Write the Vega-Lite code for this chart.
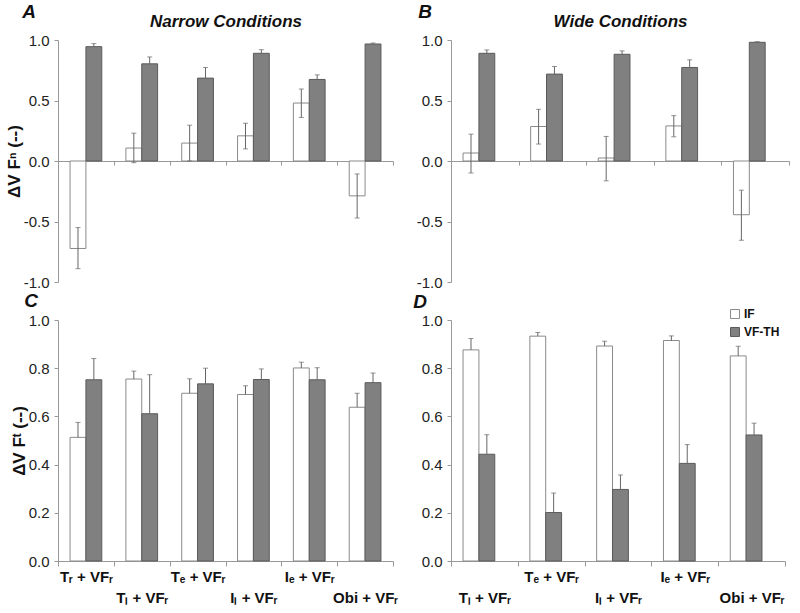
{
  "$schema": "https://vega.github.io/schema/vega-lite/v6.json",
  "padding": {"left": 5, "top": 3, "right": 5, "bottom": 5},
  "columns": 2,
  "spacing": {"row": 2, "column": 15},
  "resolve": {"legend": {"fill": "independent", "stroke": "independent"}, "scale": {"fill": "independent", "stroke": "independent"}},
  "config": {
    "font": "Liberation Sans",
    "view": {"stroke": null},
    "axis": {"labelFont": "Liberation Sans", "labelFontSize": 15, "labelColor": "#222", "domainColor": "#999", "tickColor": "#999", "grid": false, "titleColor": "#111"},
    "title": {"font": "Liberation Sans", "fontSize": 19, "fontWeight": "bold", "fontStyle": "italic", "color": "#111", "anchor": "start", "frame": "bounds", "offset": 0}
  },
  "datasets": {
    "narrowN": [
      {"cond": "Tᵣ + VFᵣ", "series": "IF", "value": -0.723, "lower": -0.89, "upper": -0.55},
      {"cond": "Tᵣ + VFᵣ", "series": "VF-TH", "value": 0.945, "lower": 0.945, "upper": 0.97},
      {"cond": "Tₗ + VFᵣ", "series": "IF", "value": 0.107, "lower": -0.014, "upper": 0.23},
      {"cond": "Tₗ + VFᵣ", "series": "VF-TH", "value": 0.803, "lower": 0.803, "upper": 0.86},
      {"cond": "Tₑ + VFᵣ", "series": "IF", "value": 0.148, "lower": 0.0, "upper": 0.296},
      {"cond": "Tₑ + VFᵣ", "series": "VF-TH", "value": 0.685, "lower": 0.685, "upper": 0.773},
      {"cond": "Iₗ + VFᵣ", "series": "IF", "value": 0.208, "lower": 0.1, "upper": 0.312},
      {"cond": "Iₗ + VFᵣ", "series": "VF-TH", "value": 0.89, "lower": 0.89, "upper": 0.92},
      {"cond": "Iₑ + VFᵣ", "series": "IF", "value": 0.479, "lower": 0.36, "upper": 0.595},
      {"cond": "Iₑ + VFᵣ", "series": "VF-TH", "value": 0.674, "lower": 0.674, "upper": 0.712},
      {"cond": "Obi + VFᵣ", "series": "IF", "value": -0.288, "lower": -0.471, "upper": -0.107},
      {"cond": "Obi + VFᵣ", "series": "VF-TH", "value": 0.967, "lower": 0.967, "upper": 0.975}
    ],
    "wideN": [
      {"cond": "Tₗ + VFᵣ", "series": "IF", "value": 0.066, "lower": -0.099, "upper": 0.222},
      {"cond": "Tₗ + VFᵣ", "series": "VF-TH", "value": 0.89, "lower": 0.89, "upper": 0.918},
      {"cond": "Tₑ + VFᵣ", "series": "IF", "value": 0.285, "lower": 0.14, "upper": 0.427},
      {"cond": "Tₑ + VFᵣ", "series": "VF-TH", "value": 0.718, "lower": 0.718, "upper": 0.781},
      {"cond": "Iₗ + VFᵣ", "series": "IF", "value": 0.025, "lower": -0.164, "upper": 0.203},
      {"cond": "Iₗ + VFᵣ", "series": "VF-TH", "value": 0.882, "lower": 0.882, "upper": 0.91},
      {"cond": "Iₑ + VFᵣ", "series": "IF", "value": 0.29, "lower": 0.2, "upper": 0.375},
      {"cond": "Iₑ + VFᵣ", "series": "VF-TH", "value": 0.773, "lower": 0.773, "upper": 0.836},
      {"cond": "Obi + VFᵣ", "series": "IF", "value": -0.444, "lower": -0.655, "upper": -0.241},
      {"cond": "Obi + VFᵣ", "series": "VF-TH", "value": 0.981, "lower": 0.981, "upper": 0.986}
    ],
    "narrowT": [
      {"cond": "Tᵣ + VFᵣ", "series": "IF", "value": 0.513, "lower": 0.513, "upper": 0.575},
      {"cond": "Tᵣ + VFᵣ", "series": "VF-TH", "value": 0.752, "lower": 0.752, "upper": 0.84},
      {"cond": "Tₗ + VFᵣ", "series": "IF", "value": 0.755, "lower": 0.755, "upper": 0.788},
      {"cond": "Tₗ + VFᵣ", "series": "VF-TH", "value": 0.611, "lower": 0.611, "upper": 0.773},
      {"cond": "Tₑ + VFᵣ", "series": "IF", "value": 0.696, "lower": 0.696, "upper": 0.756},
      {"cond": "Tₑ + VFᵣ", "series": "VF-TH", "value": 0.735, "lower": 0.735, "upper": 0.8},
      {"cond": "Iₗ + VFᵣ", "series": "IF", "value": 0.691, "lower": 0.691, "upper": 0.727},
      {"cond": "Iₗ + VFᵣ", "series": "VF-TH", "value": 0.753, "lower": 0.753, "upper": 0.797},
      {"cond": "Iₑ + VFᵣ", "series": "IF", "value": 0.801, "lower": 0.801, "upper": 0.825},
      {"cond": "Iₑ + VFᵣ", "series": "VF-TH", "value": 0.752, "lower": 0.752, "upper": 0.802},
      {"cond": "Obi + VFᵣ", "series": "IF", "value": 0.638, "lower": 0.638, "upper": 0.696},
      {"cond": "Obi + VFᵣ", "series": "VF-TH", "value": 0.74, "lower": 0.74, "upper": 0.78}
    ],
    "wideT": [
      {"cond": "Tₗ + VFᵣ", "series": "IF", "value": 0.876, "lower": 0.876, "upper": 0.923},
      {"cond": "Tₗ + VFᵣ", "series": "VF-TH", "value": 0.443, "lower": 0.443, "upper": 0.524},
      {"cond": "Tₑ + VFᵣ", "series": "IF", "value": 0.933, "lower": 0.933, "upper": 0.948},
      {"cond": "Tₑ + VFᵣ", "series": "VF-TH", "value": 0.201, "lower": 0.201, "upper": 0.282},
      {"cond": "Iₗ + VFᵣ", "series": "IF", "value": 0.892, "lower": 0.892, "upper": 0.912},
      {"cond": "Iₗ + VFᵣ", "series": "VF-TH", "value": 0.297, "lower": 0.297, "upper": 0.357},
      {"cond": "Iₑ + VFᵣ", "series": "IF", "value": 0.915, "lower": 0.915, "upper": 0.934},
      {"cond": "Iₑ + VFᵣ", "series": "VF-TH", "value": 0.405, "lower": 0.405, "upper": 0.483},
      {"cond": "Obi + VFᵣ", "series": "IF", "value": 0.851, "lower": 0.851, "upper": 0.891},
      {"cond": "Obi + VFᵣ", "series": "VF-TH", "value": 0.523, "lower": 0.523, "upper": 0.572}
    ]
  },
  "concat": [
    {
      "width": 335, "height": 242,
      "title": {"text": "A", "dx": 17, "dy": 14},
      "data": {"name": "narrowN"},
      "encoding": {
        "xOffset": {"field": "series", "type": "nominal", "sort": ["IF", "VF-TH"], "scale": {"paddingInner": 0, "paddingOuter": 0.76}}
      },
      "layer": [
        {
          "mark": {"type": "bar", "strokeWidth": 1},
          "encoding": {
            "x": {"field": "cond", "type": "nominal", "sort": null, "scale": {"paddingInner": 0, "paddingOuter": 0}, "axis": {"orient": "bottom", "offset": -121, "labels": false, "title": null, "tickSize": 4, "tickBand": "extent"}},
            "y": {"field": "value", "type": "quantitative", "scale": {"domain": [-1, 1], "nice": false}, "axis": {"values": [-1, -0.5, 0, 0.5, 1], "labelExpr": "datum.value < 0 ? '-' + format(-datum.value, '.1f') : format(datum.value, '.1f')", "title": "ΔV Fⁿ (--)", "titleFontSize": 17, "titleFontWeight": "bold", "titlePadding": 0, "tickSize": 4, "labelPadding": 5}},
            "fill": {"field": "series", "type": "nominal", "scale": {"domain": ["IF", "VF-TH"], "range": ["#ffffff", "#808080"]}, "legend": null},
            "stroke": {"field": "series", "type": "nominal", "scale": {"domain": ["IF", "VF-TH"], "range": ["#8a8a8a", "#5a5a5a"]}, "legend": null}
          }
        },
        {
          "mark": {"type": "rule", "color": "#666", "strokeWidth": 1},
          "encoding": {
            "x": {"field": "cond", "type": "nominal", "sort": null, "axis": {"orient": "top", "domain": false, "ticks": false, "labels": false, "title": "Narrow Conditions", "titleFontSize": 17, "titleFontWeight": "bold", "titleFontStyle": "italic", "titlePadding": 10}},
            "y": {"field": "lower", "type": "quantitative"},
            "y2": {"field": "upper"}
          }
        },
        {
          "mark": {"type": "tick", "color": "#666", "size": 5, "thickness": 1, "orient": "horizontal"},
          "encoding": {
            "x": {"field": "cond", "type": "nominal", "sort": null, "axis": null},
            "y": {"field": "upper", "type": "quantitative"}
          }
        },
        {
          "transform": [{"filter": "datum.lower < datum.value"}],
          "mark": {"type": "tick", "color": "#666", "size": 5, "thickness": 1, "orient": "horizontal"},
          "encoding": {
            "x": {"field": "cond", "type": "nominal", "sort": null, "axis": null},
            "y": {"field": "lower", "type": "quantitative"}
          }
        }
      ],
      "resolve": {"axis": {"x": "independent"}}
    },
    {
      "width": 338, "height": 242,
      "title": {"text": "B", "dx": 2, "dy": 14},
      "data": {"name": "wideN"},
      "encoding": {
        "xOffset": {"field": "series", "type": "nominal", "sort": ["IF", "VF-TH"], "scale": {"paddingInner": 0, "paddingOuter": 0.76}}
      },
      "layer": [
        {
          "mark": {"type": "bar", "strokeWidth": 1},
          "encoding": {
            "x": {"field": "cond", "type": "nominal", "sort": null, "scale": {"paddingInner": 0, "paddingOuter": 0}, "axis": {"orient": "bottom", "offset": -121, "labels": false, "title": null, "tickSize": 4, "tickBand": "extent"}},
            "y": {"field": "value", "type": "quantitative", "scale": {"domain": [-1, 1], "nice": false}, "axis": {"values": [-1, -0.5, 0, 0.5, 1], "labelExpr": "datum.value < 0 ? '-' + format(-datum.value, '.1f') : format(datum.value, '.1f')", "title": null, "tickSize": 4, "labelPadding": 5}},
            "fill": {"field": "series", "type": "nominal", "scale": {"domain": ["IF", "VF-TH"], "range": ["#ffffff", "#808080"]}, "legend": null},
            "stroke": {"field": "series", "type": "nominal", "scale": {"domain": ["IF", "VF-TH"], "range": ["#8a8a8a", "#5a5a5a"]}, "legend": null}
          }
        },
        {
          "mark": {"type": "rule", "color": "#666", "strokeWidth": 1},
          "encoding": {
            "x": {"field": "cond", "type": "nominal", "sort": null, "axis": {"orient": "top", "domain": false, "ticks": false, "labels": false, "title": "Wide Conditions", "titleFontSize": 17, "titleFontWeight": "bold", "titleFontStyle": "italic", "titlePadding": 10}},
            "y": {"field": "lower", "type": "quantitative"},
            "y2": {"field": "upper"}
          }
        },
        {
          "mark": {"type": "tick", "color": "#666", "size": 5, "thickness": 1, "orient": "horizontal"},
          "encoding": {
            "x": {"field": "cond", "type": "nominal", "sort": null, "axis": null},
            "y": {"field": "upper", "type": "quantitative"}
          }
        },
        {
          "transform": [{"filter": "datum.lower < datum.value"}],
          "mark": {"type": "tick", "color": "#666", "size": 5, "thickness": 1, "orient": "horizontal"},
          "encoding": {
            "x": {"field": "cond", "type": "nominal", "sort": null, "axis": null},
            "y": {"field": "lower", "type": "quantitative"}
          }
        }
      ],
      "resolve": {"axis": {"x": "independent"}}
    },
    {
      "width": 335, "height": 241,
      "title": {"text": "C", "dx": 14, "dy": 2},
      "data": {"name": "narrowT"},
      "encoding": {
        "xOffset": {"field": "series", "type": "nominal", "sort": ["IF", "VF-TH"], "scale": {"paddingInner": 0, "paddingOuter": 0.76}}
      },
      "layer": [
        {
          "mark": {"type": "bar", "strokeWidth": 1},
          "encoding": {
            "x": {"field": "cond", "type": "nominal", "sort": null, "scale": {"paddingInner": 0, "paddingOuter": 0}, "axis": {"title": null, "tickSize": 5, "tickBand": "extent", "labelAngle": 0, "labelFontWeight": "bold", "labelFontSize": 15, "labelColor": "#111", "labelPadding": 3, "labelBaseline": "top", "labelLineHeight": 21, "labelOverlap": false, "labelBound": false, "labelFlush": false, "labelExpr": "indexof(['Tₗ + VFᵣ', 'Iₗ + VFᵣ', 'Obi + VFᵣ'], datum.value) >= 0 ? ['', datum.value] : datum.value"}},
            "y": {"field": "value", "type": "quantitative", "scale": {"domain": [0, 1], "nice": false}, "axis": {"values": [0, 0.2, 0.4, 0.6, 0.8, 1], "format": ".1f", "title": "ΔV Fᵗ (--)", "titleFontSize": 17, "titleFontWeight": "bold", "titlePadding": 0, "tickSize": 4, "labelPadding": 5}},
            "fill": {"field": "series", "type": "nominal", "scale": {"domain": ["IF", "VF-TH"], "range": ["#ffffff", "#808080"]}, "legend": null},
            "stroke": {"field": "series", "type": "nominal", "scale": {"domain": ["IF", "VF-TH"], "range": ["#8a8a8a", "#5a5a5a"]}, "legend": null}
          }
        },
        {
          "mark": {"type": "rule", "color": "#666", "strokeWidth": 1},
          "encoding": {
            "x": {"field": "cond", "type": "nominal", "sort": null},
            "y": {"field": "lower", "type": "quantitative"},
            "y2": {"field": "upper"}
          }
        },
        {
          "mark": {"type": "tick", "color": "#666", "size": 5, "thickness": 1, "orient": "horizontal"},
          "encoding": {
            "x": {"field": "cond", "type": "nominal", "sort": null},
            "y": {"field": "upper", "type": "quantitative"}
          }
        }
      ]
    },
    {
      "width": 334, "height": 241,
      "title": {"text": "D", "dx": -8, "dy": 8},
      "data": {"name": "wideT"},
      "encoding": {
        "xOffset": {"field": "series", "type": "nominal", "sort": ["IF", "VF-TH"], "scale": {"paddingInner": 0, "paddingOuter": 0.76}}
      },
      "layer": [
        {
          "mark": {"type": "bar", "strokeWidth": 1},
          "encoding": {
            "x": {"field": "cond", "type": "nominal", "sort": null, "scale": {"paddingInner": 0, "paddingOuter": 0}, "axis": {"title": null, "tickSize": 5, "tickBand": "extent", "labelAngle": 0, "labelFontWeight": "bold", "labelFontSize": 15, "labelColor": "#111", "labelPadding": 3, "labelBaseline": "top", "labelLineHeight": 21, "labelOverlap": false, "labelBound": false, "labelFlush": false, "labelExpr": "indexof(['Tₗ + VFᵣ', 'Iₗ + VFᵣ', 'Obi + VFᵣ'], datum.value) >= 0 ? ['', datum.value] : datum.value"}},
            "y": {"field": "value", "type": "quantitative", "scale": {"domain": [0, 1], "nice": false}, "axis": {"values": [0, 0.2, 0.4, 0.6, 0.8, 1], "format": ".1f", "title": null, "tickSize": 4, "labelPadding": 5}},
            "fill": {"field": "series", "type": "nominal", "scale": {"domain": ["IF", "VF-TH"], "range": ["#ffffff", "#808080"]}, "legend": {"orient": "none", "legendX": 278, "legendY": -12, "title": null, "padding": 0, "symbolType": "square", "symbolSize": 80, "symbolStrokeWidth": 1, "labelFontSize": 12, "labelFontWeight": "bold", "labelColor": "#111", "rowPadding": 4, "labelOffset": 3}},
            "stroke": {"field": "series", "type": "nominal", "scale": {"domain": ["IF", "VF-TH"], "range": ["#8a8a8a", "#5a5a5a"]}, "legend": {"orient": "none", "legendX": 278, "legendY": -12, "title": null, "padding": 0, "symbolType": "square", "symbolSize": 80, "symbolStrokeWidth": 1, "labelFontSize": 12, "labelFontWeight": "bold", "labelColor": "#111", "rowPadding": 4, "labelOffset": 3}}
          }
        },
        {
          "mark": {"type": "rule", "color": "#666", "strokeWidth": 1},
          "encoding": {
            "x": {"field": "cond", "type": "nominal", "sort": null},
            "y": {"field": "lower", "type": "quantitative"},
            "y2": {"field": "upper"}
          }
        },
        {
          "mark": {"type": "tick", "color": "#666", "size": 5, "thickness": 1, "orient": "horizontal"},
          "encoding": {
            "x": {"field": "cond", "type": "nominal", "sort": null},
            "y": {"field": "upper", "type": "quantitative"}
          }
        }
      ]
    }
  ]
}
